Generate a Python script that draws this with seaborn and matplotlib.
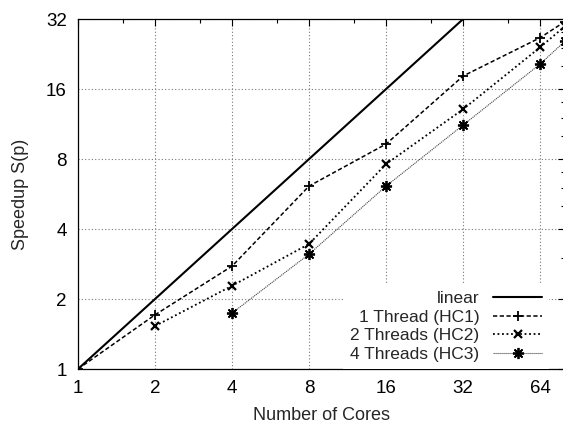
import matplotlib
matplotlib.use("Agg")
import matplotlib.pyplot as plt
import seaborn as sns
from matplotlib.ticker import FixedLocator, NullFormatter, FixedFormatter

# Speedup measurements per core count
linear_cores = [1, 2, 4, 8, 16, 32, 64, 80]
linear_speedup = [1, 2, 4, 8, 16, 32, 64, 80]
hc1_cores = [1, 2, 4, 8, 16, 32, 64, 80]
hc1_speedup = [1.0, 1.71, 2.77, 6.12, 9.28, 18.2, 26.6, 31.2]
hc2_cores = [2, 4, 8, 16, 32, 64, 80]
hc2_speedup = [1.53, 2.28, 3.45, 7.61, 13.1, 24.2, 29.8]
hc3_cores = [4, 8, 16, 32, 64, 80]
hc3_speedup = [1.74, 3.12, 6.12, 11.2, 20.5, 25.7]

series_labels = ["linear", "1 Thread (HC1)", "2 Threads (HC2)", "4 Threads (HC3)"]
x_ticks = [1, 2, 4, 8, 16, 32, 64]
x_minor = [1.5, 3, 6, 12, 24, 48]
y_ticks = [1, 2, 4, 8, 16, 32]
y_minor = [3, 5, 6, 7, 10, 12, 14, 20, 24, 28]

sns.set_style("white")
plt.rcParams["font.family"] = ["Liberation Sans", "DejaVu Sans"]
plt.rcParams["font.size"] = 12.5

W, H = 563, 426
fig = plt.figure(figsize=(W / 100, H / 100), dpi=100)
ax = fig.add_axes([78 / W, 57 / H, (565 - 78) / W, (369 - 19) / H])
ax.set_xscale("log", base=2)
ax.set_yscale("log", base=2)

sns.lineplot(x=linear_cores, y=linear_speedup, ax=ax, color="black",
             linewidth=1.5, linestyle="-", label=series_labels[0])
sns.lineplot(x=hc1_cores, y=hc1_speedup, ax=ax, color="black",
             linewidth=1.1, linestyle=(0, (2.8, 1.6)), marker="+",
             markersize=7, markeredgewidth=1.3, markeredgecolor="black",
             label=series_labels[1])
sns.lineplot(x=hc2_cores, y=hc2_speedup, ax=ax, color="black",
             linewidth=1.3, linestyle=(0, (1, 1.5)), marker="x",
             markersize=6, markeredgewidth=1.6, markeredgecolor="black",
             label=series_labels[2])
sns.lineplot(x=hc3_cores, y=hc3_speedup, ax=ax, color="#444444",
             linewidth=0.8, linestyle=(0, (1, 0.8)), marker=(8, 2, 0),
             markersize=8, markeredgewidth=1.3, markeredgecolor="black",
             label=series_labels[3])

ax.set_xlim(1, 80)
ax.set_ylim(1, 32)

ax.xaxis.set_major_locator(FixedLocator(x_ticks))
ax.xaxis.set_major_formatter(FixedFormatter([str(v) for v in x_ticks]))
ax.xaxis.set_minor_locator(FixedLocator(x_minor))
ax.xaxis.set_minor_formatter(NullFormatter())
ax.yaxis.set_major_locator(FixedLocator(y_ticks))
ax.yaxis.set_major_formatter(FixedFormatter([str(v) for v in y_ticks]))
ax.yaxis.set_minor_locator(FixedLocator(y_minor))
ax.yaxis.set_minor_formatter(NullFormatter())

ax.tick_params(which="both", direction="in", top=True, right=True,
               colors="black", width=0.8, labelsize=13.5)
ax.tick_params(which="major", length=5)
ax.tick_params(which="minor", length=3)
ax.tick_params(axis="x", which="major", pad=8)
ax.tick_params(axis="y", which="major", pad=8)

ax.grid(True, which="major", color="#777777", linestyle=(0, (1, 2)),
        linewidth=0.8)
ax.set_axisbelow(True)
for s in ax.spines.values():
    s.set_color("black")
    s.set_linewidth(0.9)

ax.set_xlabel("Number of Cores", fontsize=13, labelpad=7)
ax.set_ylabel("Speedup S(p)", fontsize=13, labelpad=12)

leg = ax.legend(loc="lower right", bbox_to_anchor=(549 / W, 57 / H),
                bbox_transform=fig.transFigure, markerfirst=False,
                frameon=True, framealpha=1, edgecolor="white",
                fancybox=False, borderpad=0.4, borderaxespad=0,
                labelspacing=0.2, handletextpad=0.8, handlelength=2.8,
                fontsize=12.5)
leg.get_frame().set_linewidth(0)

fig.savefig("out.png", dpi=100)
